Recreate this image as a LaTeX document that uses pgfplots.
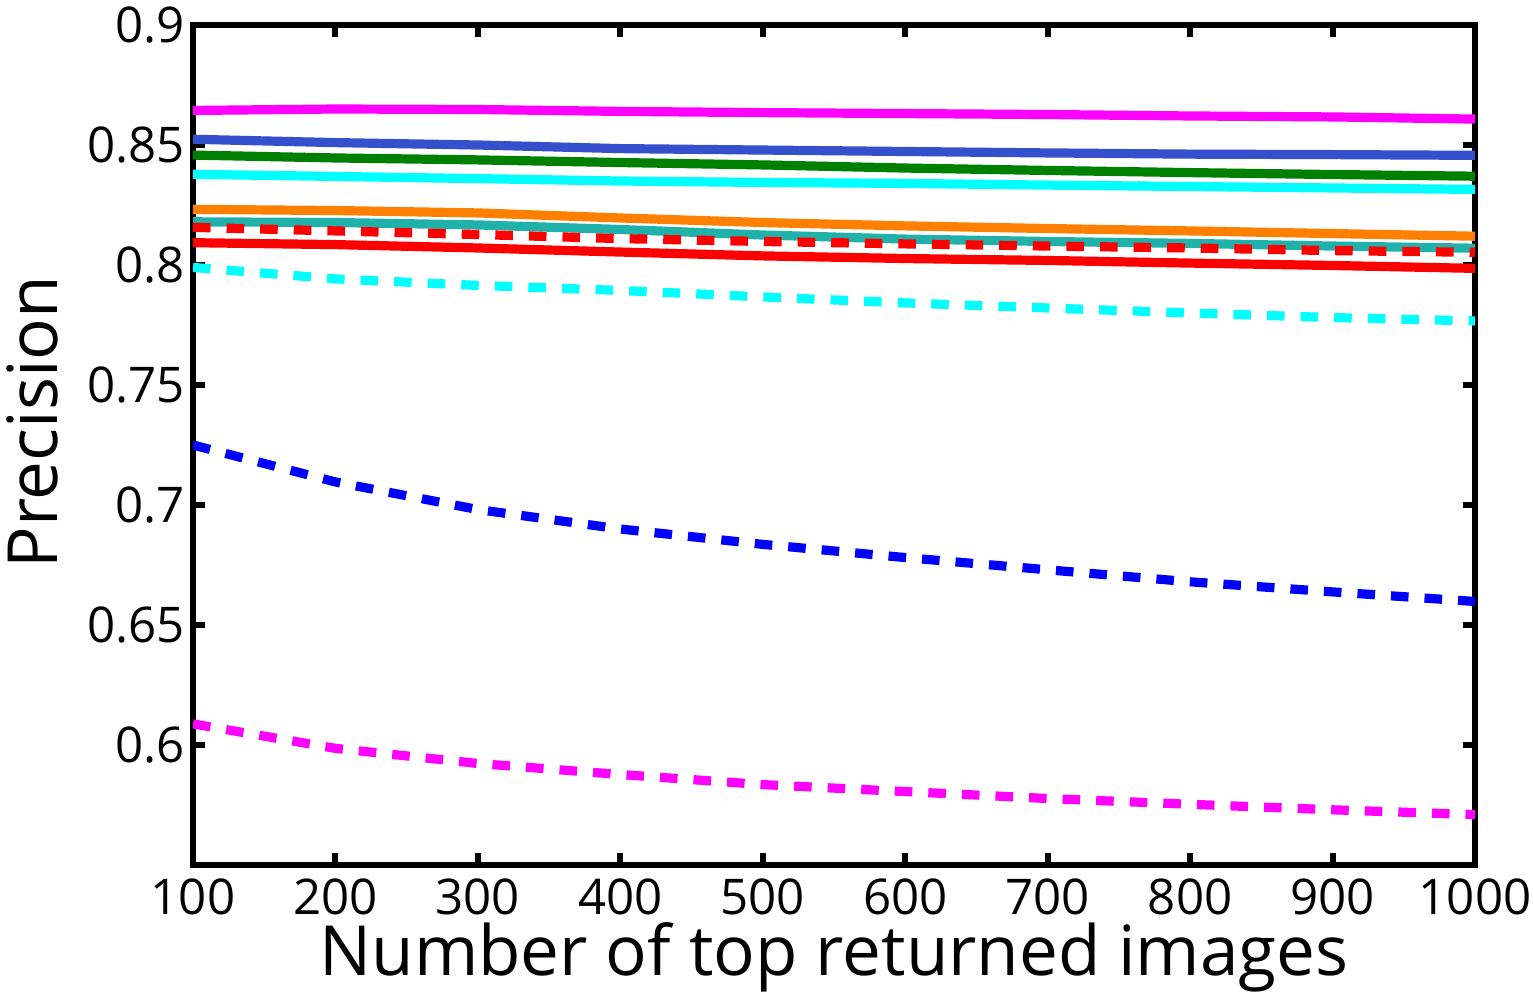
\documentclass[border=0pt]{standalone}
\usepackage{pgfplots}
\pgfplotsset{compat=1.18}
\usepackage{fontspec}
\setmainfont{Open Sans}
\definecolor{royal}{RGB}{53,80,205}
\definecolor{seagreen}{RGB}{32,178,170}
\definecolor{orangeM}{RGB}{255,128,0}
\definecolor{greenM}{RGB}{0,128,0}
\definecolor{magentaM}{RGB}{255,0,255}
\definecolor{cyanM}{RGB}{0,255,255}
\definecolor{blueM}{RGB}{0,0,255}
\definecolor{redM}{RGB}{255,0,0}
\begin{document}
\begin{tikzpicture}
\begin{axis}[
  scale only axis, width=320.5pt, height=210pt,
  xmin=100, xmax=1000, ymin=0.55, ymax=0.9,
  xtick={100,200,300,400,500,600,700,800,900,1000},
  ytick={0.6,0.65,0.7,0.75,0.8,0.85,0.9},
  tick align=inside, major tick length=3pt,
  axis line style={line width=1.5pt},
  every tick/.style={black, line width=1.5pt},
  /pgf/number format/assume math mode=true,
  scaled ticks=false,
  xticklabel style={/pgf/number format/set thousands separator={}},
  yticklabel style={/pgf/number format/fixed, /pgf/number format/precision=2, xshift=1.5pt},
  tick label style={font=\fontsize{12.3}{14}\selectfont},
  label style={font=\fontsize{17.3}{20}\selectfont},
  xlabel={Number of top returned images},
  ylabel={Precision},
  xlabel shift=-5pt,
  ylabel shift=0.5pt,
  ylabel style={at={(ticklabel cs:0.527)}},
  every axis plot/.append style={line width=2.3pt},
  dashM/.style={dash pattern=on 4.4pt off 4pt},
]
% magenta solid
\addplot[magentaM] coordinates {(100,0.8644)(200,0.8650)(300,0.8648)(400,0.8640)(500,0.8635)(600,0.8631)(700,0.8627)(800,0.8621)(900,0.8617)(1000,0.8608)};
% royal blue solid
\addplot[royal] coordinates {(100,0.8524)(200,0.8510)(300,0.8500)(400,0.8485)(500,0.8479)(600,0.8473)(700,0.8467)(800,0.8462)(900,0.8460)(1000,0.8457)};
% green solid
\addplot[greenM] coordinates {(100,0.8458)(200,0.8446)(300,0.8438)(400,0.8427)(500,0.8417)(600,0.8404)(700,0.8394)(800,0.8385)(900,0.8377)(1000,0.8370)};
% cyan solid
\addplot[cyanM] coordinates {(100,0.8378)(200,0.8369)(300,0.8360)(400,0.8350)(500,0.8344)(600,0.8340)(700,0.8333)(800,0.8327)(900,0.8321)(1000,0.8315)};
% orange solid
\addplot[orangeM] coordinates {(100,0.8232)(200,0.8227)(300,0.8217)(400,0.8196)(500,0.8177)(600,0.8163)(700,0.8152)(800,0.8142)(900,0.8131)(1000,0.8120)};
% light sea green solid
\addplot[seagreen] coordinates {(100,0.8180)(200,0.8177)(300,0.8167)(400,0.8148)(500,0.8125)(600,0.8108)(700,0.8098)(800,0.8090)(900,0.8079)(1000,0.8070)};
% red solid
\addplot[redM] coordinates {(100,0.8093)(200,0.8085)(300,0.8071)(400,0.8054)(500,0.8038)(600,0.8027)(700,0.8019)(800,0.8008)(900,0.7998)(1000,0.7986)};
% red dashed
\addplot[redM, dashM] coordinates {(100,0.8157)(200,0.8142)(300,0.8127)(400,0.8110)(500,0.8098)(600,0.8088)(700,0.8079)(800,0.8071)(900,0.8060)(1000,0.8053)};
% cyan dashed
\addplot[cyanM, dashM] coordinates {(100,0.7990)(200,0.7942)(300,0.7915)(400,0.7894)(500,0.7867)(600,0.7842)(700,0.7821)(800,0.7800)(900,0.7781)(1000,0.7767)};
% blue dashed
\addplot[blueM, dashM] coordinates {(100,0.7250)(200,0.7096)(300,0.6981)(400,0.6900)(500,0.6836)(600,0.6781)(700,0.6730)(800,0.6680)(900,0.6638)(1000,0.6598)};
% magenta dashed
\addplot[magentaM, dashM] coordinates {(100,0.6088)(200,0.5986)(300,0.5923)(400,0.5877)(500,0.5835)(600,0.5806)(700,0.5777)(800,0.5753)(900,0.5730)(1000,0.5710)};
\end{axis}
\pgfresetboundingbox
\useasboundingbox ([xshift=-48.25pt,yshift=-33pt]current axis.south west) rectangle ([xshift=14.5pt,yshift=6.25pt]current axis.north east);
\end{tikzpicture}
\end{document}
